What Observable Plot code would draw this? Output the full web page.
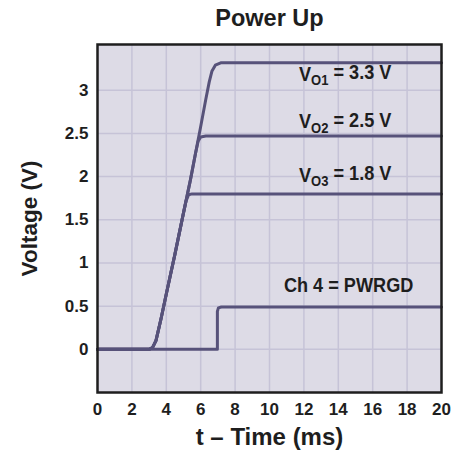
<!DOCTYPE html>
<html>
<head>
<meta charset="utf-8">
<script src="https://cdn.jsdelivr.net/npm/d3@7"></script>
<script src="https://cdn.jsdelivr.net/npm/@observablehq/plot@0.6"></script>
<style>
  html, body { margin: 0; padding: 0; background: #fff; }
  #chart svg { display: block; }
</style>
</head>
<body>
<div id="chart"></div>
<script>
// ---- data (time in ms, voltage in V) ----
const xTicks = [0, 2, 4, 6, 8, 10, 12, 14, 16, 18, 20];
const yTicks = [0, 0.5, 1, 1.5, 2, 2.5, 3];

const v01 = [[0,0],[3.0,0],[3.2,0.02],[3.4,0.1],[3.7,0.36],[4.0,0.64],[4.5,1.1],[5.0,1.58],[5.4,1.96],[5.7,2.27],[6.0,2.58],[6.3,2.9],[6.5,3.1],[6.65,3.22],[6.85,3.29],[7.2,3.32],[20,3.32]];
const v02 = [[0,0],[3.0,0],[3.2,0.02],[3.4,0.1],[3.7,0.36],[4.0,0.64],[4.5,1.1],[5.0,1.58],[5.4,1.96],[5.7,2.27],[5.85,2.41],[6.0,2.46],[6.3,2.47],[20,2.47]];
const v03 = [[0,0],[3.0,0],[3.2,0.02],[3.4,0.1],[3.7,0.36],[4.0,0.64],[4.5,1.1],[5.0,1.58],[5.15,1.72],[5.3,1.79],[5.5,1.8],[20,1.8]];
const pwrgd = [[0,0],[6.97,0],[6.97,0.44],[7.03,0.48],[7.2,0.49],[20,0.49]];

const labels = [
  {x: 14.4, y: 3.18, main: "V", sub: "O1", rest: " = 3.3 V"},
  {x: 14.4, y: 2.63, main: "V", sub: "O2", rest: " = 2.5 V"},
  {x: 14.4, y: 2.01, main: "V", sub: "O3", rest: " = 1.8 V"},
  {x: 14.6, y: 0.74, main: "Ch 4 = PWRGD", sub: "", rest: ""}
];
const title = "Power Up";
const xLabel = "t – Time (ms)";
const yLabel = "Voltage (V)";

// ---- styles ----
const FONT = "'Liberation Sans Narrow', 'Liberation Sans', Arial, sans-serif";
const lineColor = "#57527a";
const ink = "#1e1e1e";
const series = [v01, v02, v03, pwrgd];

const chart = Plot.plot({
  width: 453,
  height: 451,
  marginLeft: 97,
  marginRight: 12,
  marginTop: 44,
  marginBottom: 59,
  style: {fontFamily: FONT, fontWeight: "bold", background: "#fff", color: "#222"},
  x: {domain: [0, 20], label: null},
  y: {domain: [-0.5, 3.53], label: null},
  marks: [
    Plot.frame({fill: "#dddbe6", stroke: null}),
    Plot.gridX(xTicks.slice(1, -1), {stroke: "#c6c3d7", strokeOpacity: 1, strokeWidth: 1.5}),
    Plot.gridY(yTicks, {stroke: "#c6c3d7", strokeOpacity: 1, strokeWidth: 1.5}),
    ...series.map(s => Plot.line(s, {x: d => d[0], y: d => d[1], stroke: lineColor, strokeWidth: 3, strokeLinejoin: "round", strokeLinecap: "round"})),
    Plot.frame({stroke: ink, strokeWidth: 2.5}),
    Plot.axisX(xTicks, {tickSize: 0, tickPadding: 10, fontSize: 17, fontWeight: "bold", fill: ink, label: null}),
    Plot.axisY(yTicks, {tickSize: 0, tickPadding: 9, fontSize: 17, fontWeight: "bold", fill: ink, label: null, tickFormat: d => String(d)}),
    Plot.text(labels, {x: "x", y: "y", text: d => d.main + d.sub + d.rest, fontSize: 19.5, fontWeight: "bold", fill: ink, textAnchor: "middle"}),
    Plot.text([title], {frameAnchor: "top", lineAnchor: "middle", textAnchor: "middle", dy: -26, fontSize: 23.5, fontWeight: "bold", fill: ink}),
    Plot.text([xLabel], {frameAnchor: "bottom", lineAnchor: "middle", textAnchor: "middle", dy: 45, fontSize: 24, fontWeight: "bold", fill: ink}),
    Plot.text([yLabel], {frameAnchor: "left", lineAnchor: "middle", textAnchor: "middle", dx: -68, rotate: -90, fontSize: 22.5, fontWeight: "bold", fill: ink})
  ]
});

document.getElementById("chart").append(chart);

// subscripts for the series labels, slightly condensed like the original face
d3.select(chart).selectAll("text").each(function() {
  const t = this.textContent;
  const lab = labels.find(l => (l.main + l.sub + l.rest) === t);
  if (!lab) return;
  const sel = d3.select(this);
  if (lab.sub) {
    sel.text(null);
    sel.append("tspan").text(lab.main);
    sel.append("tspan").attr("font-size", 14).attr("dy", "0.3em").text(lab.sub);
    sel.append("tspan").attr("dy", "-0.3em").text(lab.rest);
  }
  const len = this.getComputedTextLength();
  sel.attr("textLength", len * 0.93).attr("lengthAdjust", "spacingAndGlyphs");
});
</script>
</body>
</html>
